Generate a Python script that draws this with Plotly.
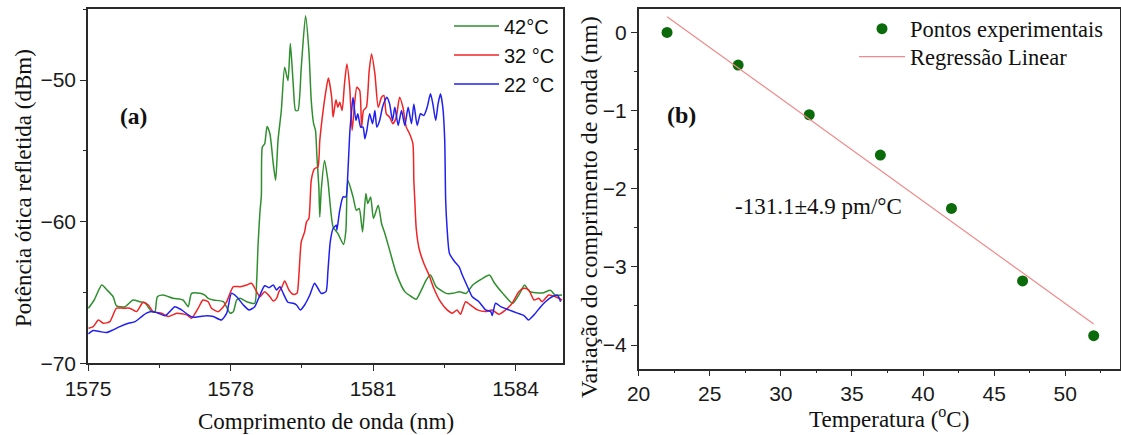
import plotly.graph_objects as go

# ---------------- (a) reflected spectra ----------------
wl_42 = [1575.01, 1575.13, 1575.29, 1575.40, 1575.53, 1575.60, 1575.78, 1575.95, 1576.09, 1576.20,
         1576.34, 1576.41, 1576.46, 1576.58, 1576.79, 1577.00, 1577.11, 1577.18, 1577.36, 1577.46,
         1577.53, 1577.64, 1577.85, 1577.99, 1578.06, 1578.13, 1578.20, 1578.34, 1578.51, 1578.55,
         1578.58, 1578.62, 1578.65, 1578.67, 1578.72, 1578.77, 1578.83, 1578.90, 1578.95, 1579.00,
         1579.07, 1579.14, 1579.21, 1579.26, 1579.32, 1579.37, 1579.42, 1579.49, 1579.58, 1579.65,
         1579.70, 1579.75, 1579.79, 1579.82, 1579.86, 1579.88, 1579.91, 1579.98, 1580.05, 1580.16,
         1580.26, 1580.38, 1580.43, 1580.47, 1580.58, 1580.65, 1580.71, 1580.78, 1580.85, 1580.89,
         1580.95, 1581.01, 1581.11, 1581.18, 1581.25, 1581.35, 1581.49, 1581.67, 1581.81, 1581.91,
         1582.02, 1582.12, 1582.21, 1582.33, 1582.54, 1582.68, 1582.82, 1582.96, 1583.10, 1583.31,
         1583.45, 1583.56, 1583.73, 1583.94, 1584.09, 1584.19, 1584.30, 1584.56, 1584.74, 1584.84,
         1584.98]
pw_42 = [-66.11, -65.53, -64.47, -64.82, -65.30, -65.95, -66.00, -65.53, -65.65, -65.74,
         -66.35, -66.35, -65.30, -65.18, -65.41, -65.53, -66.00, -65.06, -65.06, -65.18,
         -65.41, -65.53, -65.65, -66.46, -66.35, -65.53, -65.41, -65.65, -65.76, -64.24,
         -61.65, -59.31, -58.13, -54.73, -54.49, -53.27, -53.79, -55.90, -57.08, -54.26,
         -52.15, -49.10, -50.04, -47.41, -50.27, -52.15, -52.15, -49.10, -45.46, -47.92,
         -51.44, -53.08, -53.56, -55.44, -57.55, -59.66, -57.78, -55.67, -57.08, -60.37,
         -60.83, -61.61, -60.60, -57.08, -58.25, -59.19, -59.07, -60.72, -58.01, -58.72,
         -58.25, -59.77, -58.84, -60.13, -60.83, -62.01, -63.65, -64.94, -65.30, -65.48,
         -64.82, -64.12, -63.77, -64.59, -65.06, -65.06, -64.94, -65.06, -64.47, -64.00,
         -63.77, -64.35, -65.06, -65.76, -65.06, -64.47, -64.94, -65.04, -64.85, -65.20,
         -65.18]

wl_32 = [1575.01, 1575.11, 1575.22, 1575.32, 1575.46, 1575.60, 1575.74, 1575.88, 1576.02, 1576.16,
         1576.27, 1576.37, 1576.55, 1576.69, 1576.87, 1577.08, 1577.18, 1577.32, 1577.42, 1577.53,
         1577.60, 1577.74, 1577.85, 1577.92, 1578.06, 1578.20, 1578.34, 1578.44, 1578.55, 1578.62,
         1578.72, 1578.83, 1578.90, 1578.97, 1579.02, 1579.07, 1579.14, 1579.23, 1579.32, 1579.40,
         1579.44, 1579.49, 1579.56, 1579.60, 1579.65, 1579.70, 1579.77, 1579.84, 1579.88, 1579.95,
         1580.01, 1580.06, 1580.13, 1580.16, 1580.22, 1580.26, 1580.30, 1580.35, 1580.40, 1580.45,
         1580.51, 1580.56, 1580.60, 1580.66, 1580.72, 1580.76, 1580.80, 1580.86, 1580.92, 1580.97,
         1581.04, 1581.11, 1581.18, 1581.23, 1581.28, 1581.35, 1581.42, 1581.49, 1581.56, 1581.63,
         1581.70, 1581.77, 1581.84, 1581.86, 1581.88, 1581.91, 1581.97, 1582.07, 1582.18, 1582.28,
         1582.42, 1582.56, 1582.67, 1582.77, 1582.84, 1582.95, 1583.05, 1583.20, 1583.37, 1583.51,
         1583.65, 1583.79, 1583.93, 1584.07, 1584.18, 1584.28, 1584.39, 1584.49, 1584.56, 1584.70,
         1584.84, 1584.98]
pw_32 = [-67.52, -67.41, -66.94, -67.17, -67.06, -66.11, -66.11, -66.11, -66.35, -65.69,
         -65.88, -66.35, -66.46, -66.70, -66.46, -66.58, -66.82, -66.11, -65.53, -65.65,
         -66.11, -66.35, -66.00, -65.65, -64.59, -64.59, -64.47, -64.35, -64.94, -65.30,
         -64.94, -65.30, -65.60, -65.41, -64.94, -64.70, -64.19, -64.82, -65.13, -65.06,
         -63.77, -61.42, -60.72, -60.01, -59.77, -57.08, -56.25, -56.14, -54.26, -52.15,
         -50.74, -49.85, -51.21, -52.62, -51.39, -51.92, -51.56, -52.15, -50.27, -48.86,
         -50.51, -53.56, -52.15, -50.51, -50.74, -53.32, -52.15, -51.92, -49.33, -48.15,
         -49.56, -51.92, -51.21, -51.09, -52.38, -52.62, -53.08, -52.62, -51.21, -51.92,
         -53.32, -53.79, -54.49, -57.08, -58.49, -60.48, -61.89, -62.94, -63.77, -64.70,
         -65.65, -66.23, -66.46, -66.23, -66.54, -65.65, -65.88, -66.23, -66.35, -66.23,
         -66.54, -66.23, -65.76, -64.94, -64.70, -64.82, -65.53, -65.41, -65.65, -65.18,
         -65.30, -65.53]

wl_22 = [1575.01, 1575.11, 1575.25, 1575.39, 1575.53, 1575.67, 1575.85, 1575.99, 1576.13, 1576.23,
         1576.34, 1576.48, 1576.62, 1576.72, 1576.83, 1576.97, 1577.11, 1577.21, 1577.36, 1577.50,
         1577.64, 1577.81, 1577.92, 1578.02, 1578.13, 1578.27, 1578.39, 1578.51, 1578.62, 1578.72,
         1578.81, 1578.90, 1578.97, 1579.04, 1579.11, 1579.21, 1579.32, 1579.39, 1579.47, 1579.56,
         1579.67, 1579.77, 1579.84, 1579.91, 1580.01, 1580.05, 1580.10, 1580.16, 1580.23, 1580.24,
         1580.30, 1580.37, 1580.43, 1580.47, 1580.51, 1580.55, 1580.58, 1580.64, 1580.68, 1580.74,
         1580.79, 1580.83, 1580.87, 1580.93, 1580.99, 1581.04, 1581.08, 1581.14, 1581.20, 1581.25,
         1581.29, 1581.35, 1581.41, 1581.46, 1581.53, 1581.60, 1581.67, 1581.74, 1581.81, 1581.86,
         1581.93, 1582.00, 1582.07, 1582.14, 1582.21, 1582.26, 1582.32, 1582.37, 1582.42, 1582.47,
         1582.51, 1582.53, 1582.56, 1582.61, 1582.72, 1582.81, 1582.88, 1582.99, 1583.09, 1583.23,
         1583.37, 1583.48, 1583.51, 1583.58, 1583.69, 1583.86, 1584.04, 1584.18, 1584.27, 1584.39,
         1584.53, 1584.63, 1584.77, 1584.88, 1584.95]
pw_22 = [-67.92, -67.69, -67.76, -67.83, -67.64, -67.41, -67.17, -67.06, -66.70, -66.46,
         -66.35, -66.46, -66.65, -66.35, -66.00, -66.23, -66.58, -66.75, -66.70, -66.65,
         -66.70, -66.94, -66.46, -65.06, -65.30, -65.88, -66.23, -66.00, -65.18, -64.52,
         -64.66, -64.47, -64.82, -64.59, -65.06, -65.69, -65.76, -65.88, -66.23, -65.88,
         -65.18, -64.35, -64.70, -65.06, -64.94, -63.54, -61.42, -60.48, -60.25, -60.60,
         -59.19, -58.25, -58.25, -56.61, -53.79, -52.15, -51.21, -52.85, -52.38, -53.32,
         -53.32, -54.14, -53.56, -52.38, -53.08, -52.15, -53.32, -52.85, -51.92, -51.44,
         -51.21, -51.68, -52.85, -51.92, -53.20, -52.15, -53.20, -51.92, -53.08, -51.68,
         -53.20, -52.38, -52.50, -51.92, -50.97, -51.68, -52.85, -51.68, -50.97, -51.92,
         -54.26, -58.49, -60.48, -62.24, -62.83, -63.18, -63.77, -64.59, -65.30, -65.65,
         -66.23, -66.35, -66.63, -65.76, -66.00, -66.23, -66.46, -66.63, -66.94, -66.58,
         -66.00, -65.65, -65.30, -65.18, -65.65]

wl_ticks = [1575, 1578, 1581, 1584]
pw_ticks = [-70, -60, -50]

# ---------------- (b) wavelength shift vs temperature ----------------
temperature = [22, 27, 32, 37, 42, 47, 52]
shift_nm = [0.0, -0.418, -1.053, -1.569, -2.252, -3.18, -3.88]
slope_pm = -131.1
slope_err_pm = 4.9
temp_ticks = [20, 25, 30, 35, 40, 45, 50]
shift_ticks = [0, -1, -2, -3, -4]

# regression line through the data centroid with the reported slope
slope = slope_pm / 1000.0
t_mean = sum(temperature) / len(temperature)
s_mean = sum(shift_nm) / len(shift_nm)
fit_t = [temperature[0], temperature[-1]]
fit_s = [s_mean + slope * (t - t_mean) for t in fit_t]


def tick_label(v):
    return str(v).replace("-", "\u2212")


SANS = "Liberation Sans, Arial, sans-serif"
SERIF = "Liberation Serif, Times New Roman, serif"
W, H = 1121, 435
INK = "#111111"

fig = go.Figure()

curves = [("42°C", wl_42, pw_42, "#2f8f2f"),
          ("32 °C", wl_32, pw_32, "#f02424"),
          ("22 °C", wl_22, pw_22, "#2020f0")]
for name, x, y, c in curves:
    fig.add_trace(go.Scatter(x=x, y=y, mode="lines", name=name,
                             line=dict(color=c, width=1.5, shape="spline", smoothing=0.6),
                             xaxis="x", yaxis="y", legend="legend"))

fig.add_trace(go.Scatter(x=temperature, y=shift_nm, mode="markers", name="Pontos experimentais",
                         marker=dict(color="#0b6b0b", size=11),
                         xaxis="x2", yaxis="y2", legend="legend2"))
fig.add_trace(go.Scatter(x=fit_t, y=fit_s, mode="lines", name="Regressão Linear",
                         line=dict(color="#f08a8a", width=1.2),
                         xaxis="x2", yaxis="y2", legend="legend3"))

axis_common = dict(showline=True, mirror=True, linecolor="#2a2a2a", linewidth=1.5,
                   ticks="outside", ticklen=6, tickwidth=1.2, tickcolor="#2a2a2a",
                   showgrid=False, zeroline=False,
                   tickfont=dict(family=SANS, size=21, color="#1a1a1a"))
minor_common = dict(ticks="outside", ticklen=3, tickwidth=1.2, tickcolor="#2a2a2a")

fig.update_layout(
    width=W, height=H,
    margin=dict(l=0, r=0, t=0, b=0, autoexpand=False),
    paper_bgcolor="white", plot_bgcolor="white",
    xaxis=dict(domain=[88 / W, 563 / W], range=[1575, 1585], anchor="y",
               tickvals=wl_ticks, ticktext=[tick_label(v) for v in wl_ticks],
               minor=dict(dtick=1.5, tick0=1575, **minor_common), **axis_common),
    yaxis=dict(domain=[1 - 363.3 / H, 1 - 9.3 / H], range=[-70, -45], anchor="x",
               tickvals=pw_ticks, ticktext=[tick_label(v) for v in pw_ticks],
               minor=dict(dtick=5, tick0=-70, **minor_common), **axis_common),
    xaxis2=dict(domain=[638.6 / W, 1120 / W], range=[20, 53.85], anchor="y2",
                tickvals=temp_ticks, ticktext=[tick_label(v) for v in temp_ticks],
                minor=dict(dtick=2.5, tick0=20, **minor_common), **axis_common),
    yaxis2=dict(domain=[1 - 368.5 / H, 1 - 9 / H], range=[-4.3, 0.3], anchor="x2",
                tickvals=shift_ticks, ticktext=[tick_label(v) for v in shift_ticks],
                minor=dict(dtick=0.5, tick0=0, **minor_common), **axis_common),
    legend=dict(x=449 / W, y=1 - 6.5 / H, xanchor="left", yanchor="top",
                bgcolor="rgba(0,0,0,0)", itemwidth=45,
                font=dict(family=SANS, size=20, color=INK)),
    legend2=dict(x=854 / W, y=1 - 7.5 / H, xanchor="left", yanchor="top",
                 bgcolor="rgba(0,0,0,0)", itemwidth=46,
                 font=dict(family=SERIF, size=22.5, color=INK)),
    legend3=dict(x=854 / W, y=1 - 35.5 / H, xanchor="left", yanchor="top",
                 bgcolor="rgba(0,0,0,0)", itemwidth=46,
                 font=dict(family=SERIF, size=22.5, color=INK)),
    showlegend=True,
)

annotations = [
    dict(text="<b>(a)</b>", x=133 / W, y=1 - 116 / H, font=dict(family=SERIF, size=23.5, color=INK)),
    dict(text="<b>(b)</b>", x=681.5 / W, y=1 - 115 / H, font=dict(family=SERIF, size=24, color=INK)),
    dict(text=f"{slope_pm:.1f}±{slope_err_pm:.1f} pm/°C", x=818 / W, y=1 - 206.7 / H,
         font=dict(family=SERIF, size=23, color=INK)),
    dict(text="Comprimento de onda (nm)", x=326 / W, y=1 - 421 / H,
         font=dict(family=SERIF, size=23, color=INK)),
    dict(text="Potência ótica refletida (dBm)", x=23 / W, y=1 - 188 / H, textangle=-90,
         font=dict(family=SERIF, size=23, color=INK)),
    dict(text="Variação do comprimento de onda (nm)", x=588.6 / W, y=1 - 207.5 / H, textangle=-90,
         font=dict(family=SERIF, size=24, color=INK)),
    dict(text="Temperatura (<sup>o</sup>C)", x=888.6 / W, y=1 - 417.5 / H,
         font=dict(family=SERIF, size=23, color=INK)),
]
for a in annotations:
    a.update(xref="paper", yref="paper", showarrow=False, xanchor="center", yanchor="middle")
fig.update_layout(annotations=annotations)

fig.write_html("out.html")
